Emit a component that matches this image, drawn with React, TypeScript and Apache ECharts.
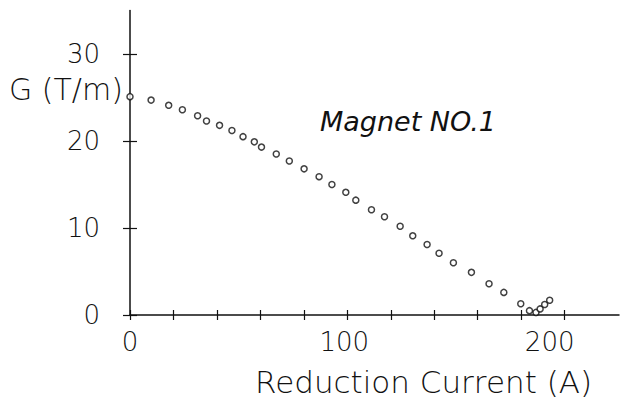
import React, { useEffect, useRef } from "react";
import * as echarts from "echarts";

const currents = [0, 9.7, 17.8, 24.1, 31.1, 35.2, 41.2, 46.9, 52, 57.2, 60.5, 67.3, 73.3, 80.1, 87, 92.9, 99.3, 103.9, 111.1, 117.1, 124.3, 130.1, 136.7, 142.2, 148.8, 157.1, 165.2, 172, 179.8, 183.8, 186.8, 188.7, 190.8, 193.1];
const gradients = [25.1, 24.7, 24.1, 23.6, 22.9, 22.3, 21.8, 21.2, 20.5, 19.9, 19.3, 18.5, 17.7, 16.8, 15.9, 15.0, 14.1, 13.2, 12.1, 11.3, 10.2, 9.1, 8.1, 7.1, 6.0, 4.9, 3.6, 2.6, 1.3, 0.5, 0.3, 0.7, 1.2, 1.7];

const xTicks = [0, 20, 40, 60, 80, 100, 120, 140, 160, 180, 200];
const xLabels = [0, 100, 200];
const yTicks = [0, 10, 20, 30];
const yLabels = [0, 10, 20, 30];

const yTitle = "G (T/m)";
const xTitle = "Reduction Current (A)";
const noteText = "Magnet NO.1";

const FONT = "DejaVu Sans";

export default function App() {
  const ref = useRef<HTMLDivElement>(null);
  useEffect(() => {
    if (!ref.current) return;
    const chart = echarts.init(ref.current, undefined, { renderer: "svg" });
    const data = currents.map((c, i) => [c, gradients[i]]);
    const axisLine = { show: true, lineStyle: { color: "#111", width: 1.5 } };
    const labelStyle = { fontFamily: FONT, fontWeight: 200, fontSize: 26, color: "#111" };
    chart.setOption({
      animation: false,
      backgroundColor: "#fff",
      grid: { left: 130, right: 11, top: 10.5, bottom: 86 },
      xAxis: [
        {
          type: "value",
          min: 0,
          max: 225,
          axisLine,
          splitLine: { show: false },
          axisTick: { show: true, customValues: xTicks, length: 5, lineStyle: { color: "#111", width: 1.2 } },
          axisLabel: {
            customValues: xLabels,
            margin: 14,
            formatter: (v: number) => (v === 200 ? "{s|" + v + "}" : v === 100 ? "{m|" + v + "}" : "{n|" + v + "}"),
            rich: {
              s: { ...labelStyle, padding: [0, 30, 0, 0] },
              m: { ...labelStyle, padding: [0, 6, 0, 0] },
              n: { ...labelStyle },
            },
            ...labelStyle,
          },
        },
        {
          type: "value",
          min: 0,
          max: 225,
          position: "bottom",
          axisLine: { show: false },
          splitLine: { show: false },
          axisTick: { show: true, inside: true, customValues: xTicks, length: 5, lineStyle: { color: "#111", width: 1.2 } },
          axisLabel: { show: false },
        },
      ],
      yAxis: [
        {
          type: "value",
          min: 0,
          max: 35,
          axisLine,
          splitLine: { show: false },
          axisTick: { show: true, customValues: yTicks, length: 7, lineStyle: { color: "#111", width: 1.2 } },
          axisLabel: {
            customValues: yLabels,
            margin: 30,
            ...labelStyle,
          },
        },
        {
          type: "value",
          min: 0,
          max: 35,
          position: "left",
          axisLine: { show: false },
          splitLine: { show: false },
          axisTick: { show: true, inside: true, customValues: yTicks, length: 7, lineStyle: { color: "#111", width: 1.2 } },
          axisLabel: { show: false },
        },
      ],
      series: [
        {
          type: "scatter",
          data,
          symbol: "circle",
          symbolSize: 6,
          clip: false,
          itemStyle: { color: "#fff", borderColor: "#111", borderWidth: 1.5 },
        },
      ],
      graphic: [
        {
          type: "text",
          left: 9,
          top: 74,
          style: { text: yTitle, fontFamily: FONT, fontWeight: 200, fontSize: 30, fill: "#111" },
        },
        {
          type: "text",
          left: 255,
          top: 366,
          style: { text: xTitle, fontFamily: FONT, fontWeight: 200, fontSize: 31, fill: "#111" },
        },
        {
          type: "text",
          left: 320,
          top: 108,
          style: { text: noteText, fontFamily: FONT, fontWeight: 200, fontStyle: "italic", fontSize: 27, fill: "#111" },
        },
      ],
    });
    return () => chart.dispose();
  }, []);
  return <div ref={ref} style={{ width: 630, height: 401, position: "absolute", left: 0, top: 0 }} />;
}
